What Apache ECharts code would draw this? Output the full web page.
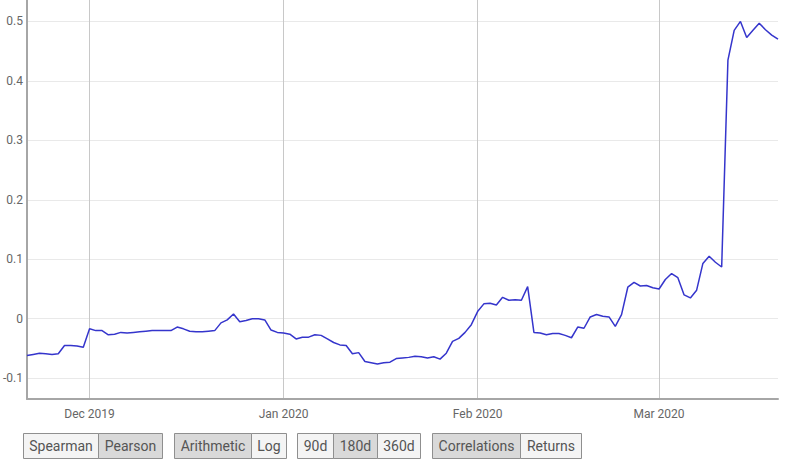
<!DOCTYPE html>
<html>
<head>
<meta charset="utf-8">
<script src="https://cdn.jsdelivr.net/npm/echarts@6/dist/echarts.min.js"></script>
<style>
html,body{margin:0;padding:0;background:#fff;}
#c{width:798px;height:465px;}
</style>
</head>
<body>
<div id="c"></div>
<script>
// Daily dates from 2019-11-21 to 2020-03-20
const startDate = [2019, 10, 21];
const dayCount = 121;
const values = [
  -0.062, -0.060, -0.058, -0.059, -0.060, -0.059, -0.045, -0.045, -0.046, -0.048,
  -0.017, -0.020, -0.020, -0.027, -0.026, -0.023, -0.024, -0.023, -0.022, -0.021,
  -0.020, -0.020, -0.020, -0.020, -0.014, -0.017, -0.021, -0.022, -0.022, -0.021,
  -0.020, -0.007, -0.002, 0.008, -0.005, -0.003, 0.000, 0.000, -0.002, -0.019,
  -0.023, -0.024, -0.026, -0.034, -0.031, -0.031, -0.027, -0.028, -0.034, -0.040,
  -0.044, -0.045, -0.059, -0.057, -0.072, -0.074, -0.076, -0.074, -0.073, -0.067,
  -0.066, -0.065, -0.063, -0.064, -0.066, -0.064, -0.068, -0.058, -0.038, -0.033,
  -0.023, -0.010, 0.012, 0.025, 0.026, 0.023, 0.036, 0.031, 0.032, 0.031,
  0.054, -0.023, -0.024, -0.027, -0.025, -0.025, -0.028, -0.032, -0.014, -0.016,
  0.003, 0.007, 0.004, 0.003, -0.013, 0.007, 0.053, 0.061, 0.055, 0.056,
  0.052, 0.050, 0.066, 0.076, 0.069, 0.040, 0.035, 0.048, 0.093, 0.105,
  0.095, 0.087, 0.435, 0.485, 0.500, 0.473, 0.485, 0.497, 0.486, 0.477,
  0.470
];
const monthNames = ['Jan','Feb','Mar','Apr','May','Jun','Jul','Aug','Sep','Oct','Nov','Dec'];
const buttonGroups = [
  [{t:'Spearman', on:false}, {t:'Pearson', on:true}],
  [{t:'Arithmetic', on:true}, {t:'Log', on:false}],
  [{t:'90d', on:false}, {t:'180d', on:true}, {t:'360d', on:false}],
  [{t:'Correlations', on:true}, {t:'Returns', on:false}]
];
const buttonEdges = [
  [23, 98, 162],
  [174, 251, 286],
  [297, 333, 377, 420],
  [432, 520, 581]
];

const dates = [];
for (let i = 0; i < dayCount; i++) {
  const d = new Date(startDate[0], startDate[1], startDate[2] + i);
  dates.push(d.getFullYear() + '-' + (d.getMonth() + 1) + '-' + d.getDate());
}
function isMonthStart(idx) {
  return dates[idx].split('-')[2] === '1';
}
function monthLabel(v) {
  const p = v.split('-');
  return monthNames[+p[1] - 1] + ' ' + p[0];
}

const graphics = [];
buttonGroups.forEach((grp, gi) => {
  const edges = buttonEdges[gi];
  grp.forEach((b, bi) => {
    const x0 = edges[bi], x1 = edges[bi + 1];
    graphics.push({
      type: 'rect',
      shape: {x: x0 + 0.5, y: 433.5, width: x1 - x0, height: 25},
      style: {fill: b.on ? '#d9d9d9' : '#f4f4f4', stroke: '#8f8f8f', lineWidth: 1}
    });
    graphics.push({
      type: 'text',
      x: (x0 + x1) / 2 + 0.5,
      y: 446,
      style: {text: b.t, fill: '#555', font: '14px Roboto', align: 'center', verticalAlign: 'middle'}
    });
  });
});

const chart = echarts.init(document.getElementById('c'), null, {renderer: 'svg'});
chart.setOption({
  animation: false,
  backgroundColor: '#fff',
  grid: {left: 24, right: 20, top: 0, bottom: 66, containLabel: false},
  xAxis: {
    type: 'category',
    data: dates,
    boundaryGap: false,
    axisLine: {show: true, onZero: false, lineStyle: {color: '#a6a6a6', width: 2}},
    axisTick: {show: false},
    axisLabel: {
      interval: (idx) => isMonthStart(idx),
      formatter: monthLabel,
      color: '#666',
      fontFamily: 'Roboto',
      fontSize: 12,
      margin: 9
    },
    splitLine: {
      show: true,
      interval: (idx) => isMonthStart(idx),
      lineStyle: {color: '#c8c8c8', width: 1}
    }
  },
  yAxis: {
    type: 'value',
    min: -0.135,
    max: 0.536,
    axisLine: {show: true, onZero: false, lineStyle: {color: '#a6a6a6', width: 2}},
    axisTick: {show: false},
    axisLabel: {
      showMinLabel: false,
      showMaxLabel: false,
      color: '#666',
      fontFamily: 'Roboto',
      fontSize: 12,
      margin: 4,
      padding: [10, 0, 0, 0],
      formatter: (v) => String(Math.round(v * 10) / 10)
    },
    splitLine: {
      show: true,
      showMinLine: false,
      showMaxLine: false,
      lineStyle: {color: '#e9e9e9', width: 1}
    }
  },
  series: [{
    type: 'line',
    data: values,
    showSymbol: false,
    symbol: 'none',
    lineStyle: {color: '#3535cc', width: 1.5},
    itemStyle: {color: '#3535cc'}
  }],
  graphic: graphics
});
</script>
</body>
</html>
